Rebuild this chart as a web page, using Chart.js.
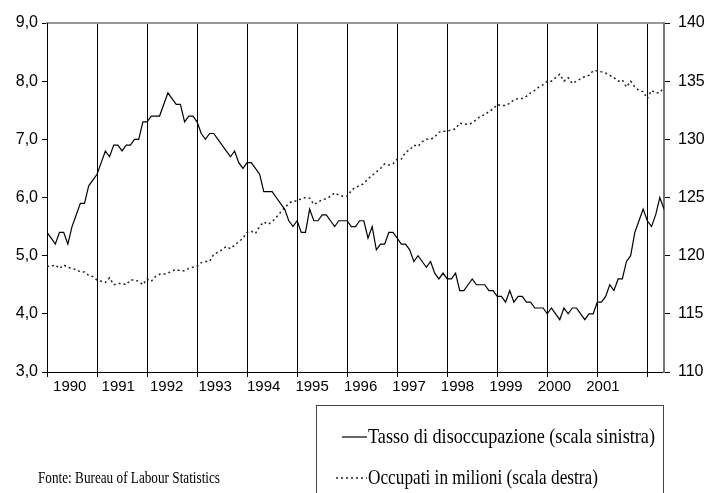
<!DOCTYPE html>
<html>
<head>
<meta charset="utf-8">
<script src="https://cdn.jsdelivr.net/npm/chart.js@4.4.1/dist/chart.umd.min.js"></script>
<style>
body{margin:0;background:#fff;}
#wrap{width:708px;height:493px;position:relative;}
</style>
</head>
<body>
<div id="wrap"><canvas id="usChart"></canvas></div>
<script>
// monthly data, jan 1990 - may 2002
const yearLabels=['1990','1991','1992','1993','1994','1995','1996','1997','1998','1999','2000','2001'];

// tasso di disoccupazione (%), scala sinistra
const unemployment=[
  5.4,5.3,5.2,5.4,5.4,5.2,5.5,5.7,5.9,5.9,6.2,6.3,
  6.4,6.6,6.8,6.7,6.9,6.9,6.8,6.9,6.9,7.0,7.0,7.3,
  7.3,7.4,7.4,7.4,7.6,7.8,7.7,7.6,7.6,7.3,7.4,7.4,
  7.3,7.1,7.0,7.1,7.1,7.0,6.9,6.8,6.7,6.8,6.6,6.5,
  6.6,6.6,6.5,6.4,6.1,6.1,6.1,6.0,5.9,5.8,5.6,5.5,
  5.6,5.4,5.4,5.8,5.6,5.6,5.7,5.7,5.6,5.5,5.6,5.6,
  5.6,5.5,5.5,5.6,5.6,5.3,5.5,5.1,5.2,5.2,5.4,5.4,
  5.3,5.2,5.2,5.1,4.9,5.0,4.9,4.8,4.9,4.7,4.6,4.7,
  4.6,4.6,4.7,4.4,4.4,4.5,4.6,4.5,4.5,4.5,4.4,4.4,
  4.3,4.3,4.2,4.4,4.2,4.3,4.3,4.2,4.2,4.1,4.1,4.1,
  4.0,4.1,4.0,3.9,4.1,4.0,4.1,4.1,4.0,3.9,4.0,4.0,
  4.2,4.2,4.3,4.5,4.4,4.6,4.6,4.9,5.0,5.4,5.6,5.8,
  5.6,5.5,5.7,6.0,5.8
];

// occupati in milioni, scala destra
const employed=[
  119.1,119.1,119.2,118.9,119.2,119.0,118.9,118.8,118.6,118.6,118.3,118.2,
  117.9,117.8,117.7,118.1,117.5,117.6,117.6,117.5,117.9,117.9,117.8,117.5,
  118.0,117.8,118.2,118.4,118.4,118.5,118.7,118.8,118.7,118.7,118.9,119.0,
  119.1,119.4,119.5,119.5,120.1,120.3,120.5,120.8,120.6,120.9,121.2,121.5,
  122.0,122.1,121.9,122.5,122.9,122.7,122.9,123.3,123.7,124.1,124.5,124.7,
  124.7,124.9,125.0,124.95,124.4,124.6,124.8,124.9,125.1,125.4,125.2,125.1,
  125.1,125.6,125.9,126.0,126.2,126.6,126.9,127.2,127.5,127.9,127.8,127.9,
  128.3,128.3,128.9,129.1,129.5,129.4,129.8,130.0,130.0,130.2,130.6,130.7,
  130.7,130.8,130.9,131.4,131.3,131.3,131.4,131.7,132.0,132.1,132.4,132.6,
  133.0,132.9,132.9,133.1,133.4,133.5,133.5,133.7,134.0,134.2,134.5,134.7,
  135.0,135.0,135.3,135.6,135.0,135.3,134.8,135.0,135.2,135.4,135.5,135.9,
  135.9,135.8,135.7,135.5,135.3,135.0,135.1,134.5,135.0,134.5,134.2,134.1,
  133.5,134.2,134.0,134.0,134.5
];

const sourceNote='Fonte: Bureau of Labour Statistics';

const comma=v=>v.toFixed(1).replace('.',',');

// squeeze serif text into the width it has in the original
function narrowText(c,text,x,y,width,size){
  c.font=size+'px "Liberation Serif"';
  c.textBaseline='middle';
  c.textAlign='left';
  const w=c.measureText(text).width;
  c.save();
  c.translate(x,y);
  c.scale(width/w,1);
  c.fillStyle='#000';
  c.fillText(text,0,0);
  c.restore();
}

const legendBox={
  id:'legendBox',
  afterDraw(chart){
    const c=chart.ctx;
    c.save();
    c.strokeStyle='#444';
    c.lineWidth=1;
    c.strokeRect(316.5,405.5,347,100);
    const rows=[437,478];
    const widths=[287,230];
    chart.data.datasets.forEach((d,i)=>{
      c.beginPath();
      c.setLineDash(d.borderDash||[]);
      c.strokeStyle=d.borderColor;
      c.lineWidth=d.borderWidth;
      c.moveTo(i?336:342,rows[i]);
      c.lineTo(367,rows[i]);
      c.stroke();
      c.setLineDash([]);
      narrowText(c,d.label,368,rows[i],widths[i],21);
    });
    narrowText(c,sourceNote,38,479,182,17);
    c.restore();
  }
};

const ctx=document.getElementById('usChart').getContext('2d');
const chart=new Chart(ctx,{
  type:'line',
  data:{
    datasets:[{
      label:'Tasso di disoccupazione (scala sinistra)',
      data:unemployment.map((v,i)=>({x:i,y:v})),
      xAxisID:'x',
      yAxisID:'y',
      borderColor:'#000',
      borderWidth:1.2,
      pointRadius:0,
      tension:0
    },{
      label:'Occupati in milioni (scala destra)',
      data:employed.map((v,i)=>({x:i,y:v})),
      xAxisID:'x',
      yAxisID:'y1',
      borderColor:'#222',
      borderWidth:1.5,
      borderDash:[2,3],
      pointRadius:0,
      tension:0
    }]
  },
  options:{
    responsive:true,
    maintainAspectRatio:false,
    animation:false,
    layout:{padding:0},
    plugins:{
      legend:{display:false},
      tooltip:{enabled:false}
    },
    scales:{
      xTop:{
        type:'linear',
        position:'top',
        min:0,
        max:148,
        ticks:{display:false},
        grid:{display:false,drawTicks:false},
        border:{color:'#999',width:2},
        afterFit:s=>{s.height=23;}
      },
      x:{
        type:'linear',
        position:'bottom',
        weight:0,
        min:0,
        max:148,
        afterBuildTicks:s=>{
          const t=[];
          for(let m=0;m<=148;m+=12) t.push({value:m});
          s.ticks=t;
        },
        ticks:{display:false},
        grid:{color:'#000',lineWidth:1,drawTicks:true,tickLength:5},
        border:{color:'#000',width:1},
        afterFit:s=>{s.height=6;}
      },
      xl:{
        type:'linear',
        position:'bottom',
        weight:1,
        min:-0.47,
        max:12.26,
        afterBuildTicks:s=>{
          s.ticks=yearLabels.map((_,i)=>({value:i}));
        },
        ticks:{
          autoSkip:false,
          maxRotation:0,
          padding:0,
          color:'#000',
          font:{family:'Liberation Sans',size:15},
          callback:(v,i)=>yearLabels[i]
        },
        grid:{display:false,drawTicks:false},
        border:{display:false},
        afterFit:s=>{s.height=115;}
      },
      y:{
        position:'left',
        min:3,
        max:9,
        ticks:{
          stepSize:1,
          padding:4,
          color:'#000',
          font:{family:'Liberation Sans',size:16},
          callback:v=>comma(v)
        },
        grid:{drawOnChartArea:false,drawTicks:true,tickLength:5,color:'#000'},
        border:{color:'#000',width:1},
        afterFit:s=>{s.width=47;}
      },
      y1:{
        position:'right',
        min:110,
        max:140,
        ticks:{
          stepSize:5,
          padding:8,
          color:'#000',
          font:{family:'Liberation Sans',size:16}
        },
        grid:{drawOnChartArea:false,drawTicks:true,tickLength:6,color:'#000'},
        border:{color:'#777',width:2},
        afterFit:s=>{s.width=44;}
      }
    }
  },
  plugins:[legendBox]
});
</script>
</body>
</html>
